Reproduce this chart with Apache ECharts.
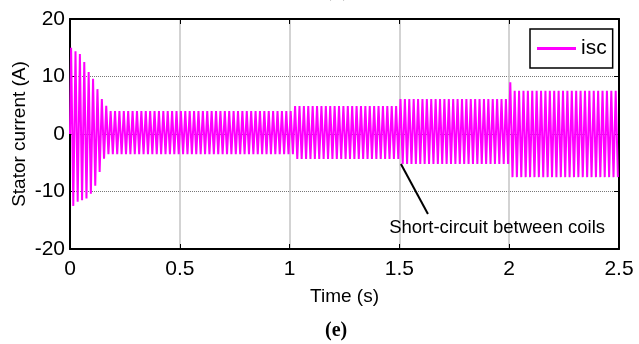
<!DOCTYPE html>
<html>
<head>
<meta charset="utf-8">
<script src="https://cdn.jsdelivr.net/npm/echarts@6/dist/echarts.min.js"></script>
<style>
  html, body { margin: 0; padding: 0; background: #fff; }
  #chart { width: 639px; height: 344px; }
</style>
</head>
<body>
<div id="chart"></div>
<script>
// 数据：包络峰值
const supplyHz = 50;                       // 电源频率，每半周期一个峰
const xTicks = [0, 0.5, 1, 1.5, 2, 2.5];
const yTicks = [-20, -10, 0, 10, 20];

// 起动阶段逐周期峰值 (A)
const startPosPeaks = [15.0, 14.4, 13.9, 12.5, 10.8, 9.6, 7.8, 6.1, 4.9];
const startNegPeaks = [-12.5, -11.8, -11.5, -11.2, -10.4, -9.0, -6.6, -4.3];

// 稳态各段：起始时间、正峰、负峰
const segStart = [0, 1.02, 1.5, 2.0];
const segPos = [4.0, 4.85, 6.1, 7.5];
const segNeg = [-3.5, -4.35, -5.2, -7.5];

// 单个突出的峰
const spikeTimes = [2.005];
const spikeVals = [9.0];

// 注释
const noteText = 'Short-circuit between coils';
const arrowFrom = [1.63, -13.9];
const arrowTo = [1.507, -5.2];
const notePos = [1.945, -16.4];

const sansFont = "'Liberation Sans', Arial, sans-serif";

// 按半周期把峰值串起来
function buildTrace() {
    const half = 1 / supplyHz / 2;
    const pts = [[0, 0]];
    for (let k = 0; (k + 0.5) * half < 2.5; k++) {
        const t = (k + 0.5) * half;
        const n = Math.floor(k / 2);
        const positive = k % 2 === 0;
        let v;
        if (positive && n < startPosPeaks.length) v = startPosPeaks[n];
        else if (!positive && n < startNegPeaks.length) v = startNegPeaks[n];
        else {
            let s = 0;
            for (let i = 0; i < segStart.length; i++) if (t >= segStart[i]) s = i;
            v = positive ? segPos[s] : segNeg[s];
            spikeTimes.forEach((st, i) => {
                if (positive && Math.abs(t - st) < half) v = spikeVals[i];
            });
        }
        pts.push([+t.toFixed(4), v]);
    }
    return pts;
}

const chart = echarts.init(document.getElementById('chart'));

const tickStyle = { show: true, inside: true, length: 5, lineStyle: { color: '#000', width: 1 } };
const lineStyleAxis = { show: true, onZero: false, lineStyle: { color: '#000', width: 2 } };

const option = {
    animation: false,
    backgroundColor: '#fff',
    grid: { left: 70, right: 20, top: 19, bottom: 95, outerBoundsMode: 'none', containLabel: false },
    legend: {
        data: ['isc'],
        left: 530, top: 29,
        padding: [9, 6, 9, 7],
        borderColor: '#000', borderWidth: 1.5,
        backgroundColor: '#fff',
        icon: 'rect', itemWidth: 39, itemHeight: 3, itemGap: 0,
        textStyle: { fontFamily: sansFont, fontSize: 21, color: '#000', padding: [0, 0, 0, 0] }
    },
    xAxis: [{
        type: 'value', min: 0, max: 2.5, interval: 0.5,
        axisLine: lineStyleAxis, axisTick: tickStyle,
        axisLabel: { fontFamily: sansFont, fontSize: 21, color: '#000', margin: 10,
            formatter: v => xTicks.includes(v) ? String(v) : '' },
        splitLine: { show: true, lineStyle: { color: '#c4c4c4', width: 1.5 } },
        name: 'Time (s)', nameLocation: 'middle', nameGap: 38, nameMoveOverlap: false,
        nameTextStyle: { fontFamily: sansFont, fontSize: 19, color: '#000' }
    }, {
        type: 'value', position: 'top', min: 0, max: 2.5, interval: 0.5,
        axisLine: lineStyleAxis, axisTick: tickStyle,
        axisLabel: { show: false }, splitLine: { show: false }
    }],
    yAxis: [{
        type: 'value', min: -20, max: 20, interval: 10,
        axisLine: lineStyleAxis, axisTick: tickStyle,
        axisLabel: { fontFamily: sansFont, fontSize: 21, color: '#000', margin: 5,
            formatter: v => yTicks.includes(v) ? String(v) : '' },
        splitLine: { show: true, lineStyle: { color: '#777', width: 1, type: [1, 1] } },
        name: 'Stator current (A)', nameLocation: 'middle', nameGap: 41, nameMoveOverlap: false,
        nameTextStyle: { fontFamily: sansFont, fontSize: 19, color: '#000' }
    }, {
        type: 'value', position: 'right', min: -20, max: 20, interval: 10,
        axisLine: lineStyleAxis, axisTick: tickStyle,
        axisLabel: { show: false }, splitLine: { show: false }
    }],
    series: [{
        name: 'isc',
        type: 'line',
        data: buildTrace(),
        showSymbol: false,
        symbol: 'none',
        lineStyle: { color: '#ff00ff', width: 2 },
        itemStyle: { color: '#ff00ff' },
        z: 3,
        markLine: {
            silent: true,
            symbol: ['none', 'arrow'],
            symbolSize: [0, 12],
            label: { show: false },
            lineStyle: { color: '#000', width: 2, type: 'solid' },
            data: [[{ coord: arrowFrom }, { coord: arrowTo }]],
            z: 5
        },
        markPoint: {
            silent: true,
            symbol: 'circle', symbolSize: 0,
            label: {
                show: true, formatter: noteText, position: 'inside',
                fontFamily: sansFont, fontSize: 18.5, color: '#000'
            },
            data: [{ coord: notePos }]
        }
    }],
    graphic: [{
        type: 'text', left: 325, top: 321,
        style: { text: '(e)', font: 'bold 20px "Liberation Serif", "Times New Roman", serif', fill: '#000' }
    }, {
        type: 'text', left: 325, top: -19,
        style: { text: '(d)', font: 'bold 20px "Liberation Serif", "Times New Roman", serif', fill: '#000' }
    }]
};

chart.setOption(option);
</script>
</body>
</html>
